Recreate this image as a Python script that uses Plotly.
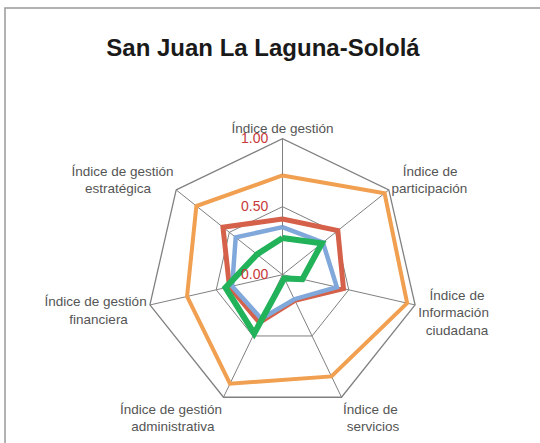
import plotly.graph_objects as go

# Radar chart: municipal indices, San Juan La Laguna-Sololá

NB = '\u00a0'  # non-breaking space, used to centre the second line of labels

categories = [
    'Índice de gestión',
    NB * 3 + 'Índice de<br>participación',
    NB * 3 + 'Índice de<br>Información<br>' + NB * 2 + 'ciudadana',
    'Índice de<br>' + NB + 'servicios',
    'Índice de gestión<br>administrativa' + NB * 2,
    'Índice de gestión<br>financiera' + NB * 5,
    'Índice de gestión<br>estratégica' + NB * 6,
]

orange_vals = [0.73, 0.96, 0.94, 0.83, 0.89, 0.72, 0.81]
red_vals = [0.41, 0.52, 0.46, 0.21, 0.39, 0.40, 0.56]
blue_vals = [0.35, 0.38, 0.41, 0.20, 0.36, 0.38, 0.44]
green_vals = [0.27, 0.37, 0.15, 0.03, 0.48, 0.43, 0.24]

radial_ticks = [0, 0.5, 1.0]
radial_labels = ['0.00', '0.50', '1.00']

series = [
    ('Serie 1', orange_vals, '#F0A050', 4),
    ('Serie 2', red_vals, '#D5614A', 5),
    ('Serie 3', blue_vals, '#80A8DA', 4.5),
    ('Serie 4', green_vals, '#22B25A', 6),
]

W, H = 540, 443
cx, cy, R = 282.5, 274.7, 136

fig = go.Figure()

for name, vals, color, width in series:
    fig.add_trace(go.Scatterpolar(
        r=vals + vals[:1],
        theta=categories + categories[:1],
        mode='lines',
        name=name,
        line=dict(color=color, width=width),
    ))

fig.update_layout(
    width=W,
    height=H,
    margin=dict(l=0, r=0, t=0, b=0),
    paper_bgcolor='white',
    showlegend=False,
    font=dict(family='Liberation Sans, Arial', color='#555555'),
    title=dict(
        text='<b>San Juan La Laguna-Sololá</b>',
        x=263 / W, xanchor='center',
        y=1 - 48 / H, yanchor='middle',
        font=dict(size=24, color='#1a1a1a', family='Liberation Sans, Arial'),
    ),
    polar=dict(
        domain=dict(x=[(cx - R) / W, (cx + R) / W],
                    y=[(H - cy - R) / H, (H - cy + R) / H]),
        bgcolor='white',
        gridshape='linear',
        radialaxis=dict(
            range=[0, 1],
            tickvals=radial_ticks,
            ticktext=[t + NB * 3 for t in radial_labels],
            tickfont=dict(size=14, color='#C8383A'),
            angle=90,
            tickangle=90,
            side='counterclockwise',
            showline=False,
            ticks='',
            gridcolor='#808080',
            gridwidth=1.3,
        ),
        angularaxis=dict(
            direction='clockwise',
            rotation=90,
            tickfont=dict(size=13.5, color='#555555'),
            ticks='',
            showline=True,
            linecolor='#808080',
            linewidth=1.3,
            gridcolor='#808080',
            gridwidth=1.3,
        ),
    ),
    shapes=[dict(
        type='rect', xref='paper', yref='paper',
        x0=5 / W, x1=1.2, y0=-0.2, y1=1 - 8 / H,
        line=dict(color='#999999', width=1.5),
    )],
)

fig.write_html('out.html', post_script="document.body.style.margin='0';",
               config={'displayModeBar': False})
